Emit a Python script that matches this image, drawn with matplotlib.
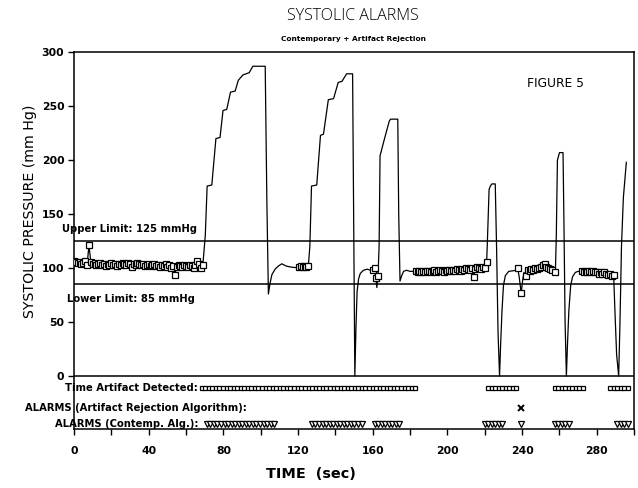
import matplotlib

matplotlib.use("Agg")
import matplotlib.pyplot as plt
import numpy as np
from matplotlib.ticker import MultipleLocator

# accepted beat-by-beat systolic readings (drawn as open squares)
beat_t = [
    0, 1, 2, 3, 4, 5, 6, 7, 8, 9,
    10, 11, 12, 13, 14, 15, 16, 17, 18, 19,
    20, 21, 22, 23, 24, 25, 26, 27, 28, 29,
    30, 31, 32, 33, 34, 35, 36, 37, 38, 39,
    40, 41, 42, 43, 44, 45, 46, 47, 48, 49,
    50, 51, 52, 53, 54, 55, 56, 57, 58, 59,
    60, 61, 62, 63, 64, 65, 66, 67, 68, 69,
    120.5, 121.5, 122.5, 123.5, 124.5, 125.5,
    160.3, 161.0, 161.6, 162.8,
    183, 184, 185, 186, 187, 188, 189, 190, 191, 192,
    193, 194, 195, 196, 197, 198, 199, 200, 201, 202,
    203, 204, 205, 206, 207, 208, 209, 210, 211, 212,
    213, 214, 215, 216, 217, 218, 219, 220, 221,
    237.6, 239.5, 242, 243, 244, 245, 246, 247, 248, 249,
    250, 251, 252, 253, 254, 255, 256, 257.8,
    272, 273, 274, 275, 276, 277, 278, 279, 280, 281,
    282, 283, 284, 285, 286, 287, 288, 289,
]
beat_p = [
    107, 106, 105, 106, 104, 105, 107, 103, 121, 106,
    104, 105, 103, 104, 105, 103, 104, 102, 104, 103,
    105, 103, 104, 102, 104, 103, 105, 104, 103, 105,
    104, 101, 104, 103, 105, 104, 103, 104, 102, 103,
    104, 102, 103, 104, 102, 103, 101, 103, 102, 104,
    101, 103, 100, 102, 94, 101, 103, 102, 101, 103,
    102, 101, 103, 102, 100, 103, 107, 104, 100, 103,
    101, 102, 101, 102, 101, 102,
    98, 100, 91, 93,
    97, 96, 97, 96, 97, 96, 97, 97, 96, 97,
    98, 96, 97, 98, 97, 96, 98, 97, 98, 97,
    98, 97, 99, 98, 97, 99, 98, 100, 99, 98,
    100, 92, 99, 101, 100, 99, 101, 100, 106,
    100, 77, 93, 98, 97, 99, 98, 100, 99, 100,
    101, 103, 104, 101, 100, 99, 98, 96,
    97, 96, 97, 96, 97, 96, 97, 96, 96, 95,
    96, 95, 96, 95, 94, 95, 93, 94,
]

# pressure trace during artifact periods (line only)
line_t = [
    70.3, 71.3, 73.8, 76.0, 78.2, 79.8, 81.8, 83.8, 86.3, 88.0,
    90.5, 93.8, 95.8, 102.4, 103.3, 104.1, 105.0, 106.0, 107.7, 109.5,
    111.3, 113.5, 116.0, 118.5,
    126.3, 127.2, 130.0, 132.0, 133.6, 136.2, 139.0, 141.5, 143.5, 146.0,
    149.2, 149.8, 150.4, 151.0, 151.6, 152.4, 153.3, 155.0, 157.0, 158.8,
    162.2,
    163.4, 163.9, 166.0, 168.8, 169.5, 173.4, 173.9, 174.6, 175.5, 176.5,
    178.0, 180.0, 182.0,
    221.4, 222.3, 223.0, 223.8, 225.6, 226.3, 227.1, 227.9, 228.5, 229.2,
    230.0, 231.0, 232.8, 235.0, 236.6,
    238.4, 239.0, 240.3, 241.0,
    258.3, 258.9, 260.0, 261.9, 262.4, 263.0, 263.7, 264.3, 265.0, 266.0,
    267.0, 268.5, 270.0, 271.0,
    289.7, 290.6, 291.7, 292.4, 293.2, 294.2, 295.8,
]
line_p = [
    130, 176, 177, 220, 221, 246, 247, 263, 264, 274,
    279, 281, 287, 287, 160, 76, 86, 94, 99, 102,
    104, 102, 101, 100.5,
    120, 176, 177, 223, 224, 256, 257, 272, 273, 280,
    280, 140, 0, 45, 78, 90, 95, 98, 99, 98,
    82,
    120, 204, 218, 236, 238, 238, 150, 88, 93, 97,
    98, 97, 97,
    125, 173, 176, 178, 178, 120, 40, 0, 30, 60,
    84, 93, 97, 97.5, 98,
    92, 84, 89, 96,
    130, 200, 207, 207, 140, 50, 0, 30, 60, 84,
    92, 96, 97, 97,
    60, 20, 0, 50, 120, 165, 198,
]

# event rows below the trace: (start, end) in seconds
artifact_spans = [(68.4, 122.0), (123.8, 160.4), (161.8, 184.5),
                  (221.7, 237.2), (257.4, 273.0), (287.2, 297.6)]
contemp_spans = [(71.1, 107.7), (127.4, 154.2), (161.0, 175.6),
                 (219.9, 231.0), (239.3, 239.3), (257.4, 266.7), (290.8, 297.0)]
ara_alarm_t = [239.3]

UPPER_LIMIT = 125
LOWER_LIMIT = 85

ROW_ARTIFACT = -10.8
ROW_ARA = -30.0
ROW_CONTEMP = -44.5


def expand(spans, step):
    out = []
    for a, b in spans:
        out.extend(np.arange(a, b + 0.01, step) if b > a else [a])
    return np.array(out)


fig = plt.figure(figsize=(6.38, 4.88), dpi=100, facecolor="white")
ax = fig.add_axes([0.116, 0.121, 0.878, 0.772])

order = np.argsort(np.concatenate([beat_t, line_t]), kind="stable")
trace_t = np.concatenate([beat_t, line_t])[order]
trace_p = np.concatenate([beat_p, line_p])[order]

ax.plot(trace_t, trace_p, color="black", linewidth=0.9, zorder=3)
ax.plot(beat_t, beat_p, linestyle="none", marker="s", markersize=4.0,
        markerfacecolor="white", markeredgecolor="black", markeredgewidth=0.9, zorder=4)

for level in (UPPER_LIMIT, LOWER_LIMIT, 0):
    ax.axhline(level, color="black", linewidth=1.1, zorder=2)

# event rows
art = expand(artifact_spans, 1.9)
ax.plot(art, np.full(len(art), ROW_ARTIFACT), linestyle="none", marker="s",
        markersize=2.8, markerfacecolor="white", markeredgecolor="black", markeredgewidth=0.9)
con = expand(contemp_spans, 1.9)
ax.plot(con, np.full(len(con), ROW_CONTEMP), linestyle="none", marker="v",
        markersize=3.8, markerfacecolor="white", markeredgecolor="black", markeredgewidth=0.9)
ax.plot(ara_alarm_t, [ROW_ARA] * len(ara_alarm_t), linestyle="none", marker="x",
        markersize=4.5, color="black", markeredgewidth=1.4)

lab = dict(fontsize=7.2, fontweight="bold", va="center", clip_on=False)
ax.text(66.5, ROW_ARTIFACT, "Time Artifact Detected:", ha="right", **lab)
ax.text(92.5, ROW_ARA, "ALARMS (Artifact Rejection Algorithm):", ha="right", **lab)
ax.text(66.5, ROW_CONTEMP, "ALARMS (Contemp. Alg.):", ha="right", **lab)

ax.text(-6.5, 136, f"Upper Limit: {UPPER_LIMIT} mmHg", ha="left", **lab)
ax.text(-3.9, 71, f"Lower Limit: {LOWER_LIMIT} mmHg", ha="left", **lab)

ax.text(257.6, 270.6, "FIGURE 5", fontsize=8.8, ha="center", va="center")

ax.set_xlim(0, 300)
ax.set_ylim(-49, 300)
ax.set_yticks([0, 50, 100, 150, 200, 250, 300])
ax.xaxis.set_major_locator(MultipleLocator(40))
ax.xaxis.set_minor_locator(MultipleLocator(20))
ax.set_xticks(np.arange(0, 281, 40))
ax.tick_params(axis="both", which="both", direction="out", length=4, width=1.0,
               labelsize=7.8, pad=3)
for lbl in ax.get_xticklabels() + ax.get_yticklabels():
    lbl.set_fontweight("bold")
ax.tick_params(axis="x", pad=8)

for side in ("top", "bottom", "left", "right"):
    ax.spines[side].set_linewidth(1.1)

fig.text(30 / 638, 1 - 211 / 488, "SYSTOLIC PRESSURE (mm Hg)", rotation=90,
         fontsize=10.2, fontweight="medium", ha="center", va="center")
fig.text(311 / 638, 1 - 474 / 488, "TIME  (sec)", fontsize=10.4, fontweight="bold",
         ha="center", va="center")
fig.text(353 / 638, 1 - 16 / 488, "SYSTOLIC ALARMS", fontsize=11.5, family="Open Sans",
         fontweight="light", ha="center", va="center")
fig.text(353 / 638, 1 - 39 / 488, "Contemporary + Artifact Rejection", fontsize=5.3,
         fontweight="bold", ha="center", va="center")

fig.savefig("out.png", dpi=100, facecolor="white")
